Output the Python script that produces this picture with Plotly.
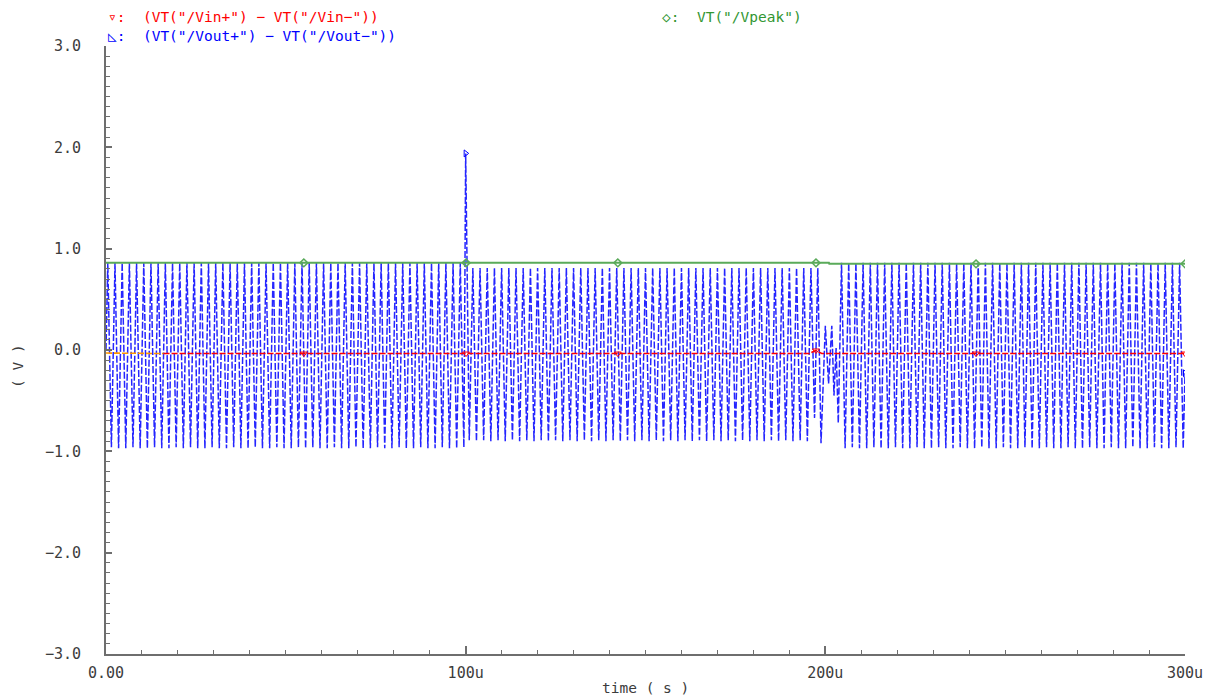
import numpy as np
import plotly.graph_objects as go

# ---------------- data (time in microseconds, volts) ----------------
# Differential output: per-cycle peak / trough levels, three steady regions
out_pk_a = [
    0.86, 0.86, 0.86, 0.86, 0.86, 0.86, 0.86, 0.86, 0.86, 0.86,
    0.86, 0.86, 0.86, 0.86, 0.86, 0.86, 0.86, 0.86, 0.86, 0.86,
    0.86, 0.86, 0.86, 0.86, 0.86, 0.86, 0.86, 0.86, 0.86, 0.86,
    0.86, 0.86, 0.86, 0.86, 0.86, 0.86, 0.86, 0.86, 0.86, 0.86,
    0.86, 0.86, 0.86, 0.86, 0.86, 0.86, 0.86, 0.86, 0.86, 0.86,
]
out_tr_a = [
    -0.96, -0.97, -0.97, -0.96, -0.97, -0.97, -0.96, -0.97, -0.97, -0.96,
    -0.97, -0.96, -0.97, -0.97, -0.96, -0.97, -0.97, -0.96, -0.97, -0.97,
    -0.96, -0.97, -0.97, -0.96, -0.97, -0.97, -0.96, -0.97, -0.96, -0.97,
    -0.97, -0.96, -0.97, -0.97, -0.96, -0.97, -0.97, -0.96, -0.97, -0.97,
    -0.96, -0.97, -0.97, -0.96, -0.97, -0.97, -0.96, -0.97, -0.97, -0.96,
]
out_spike = 1.94
out_tr_b = [
    -0.89, -0.90, -0.89, -0.90, -0.89, -0.90, -0.89, -0.90, -0.89, -0.90,
    -0.89, -0.90, -0.89, -0.90, -0.89, -0.90, -0.89, -0.90, -0.89, -0.90,
    -0.89, -0.90, -0.89, -0.90, -0.89, -0.90, -0.89, -0.90, -0.89, -0.90,
    -0.89, -0.90, -0.89, -0.90, -0.89, -0.90, -0.89, -0.90, -0.89, -0.90,
    -0.89, -0.90, -0.89, -0.90, -0.89, -0.90, -0.89, -0.90,
]
out_pk_b = [
    0.81, 0.81, 0.81, 0.81, 0.81, 0.81, 0.81, 0.81, 0.81, 0.81,
    0.81, 0.81, 0.81, 0.81, 0.81, 0.81, 0.81, 0.81, 0.81, 0.81,
    0.81, 0.81, 0.81, 0.81, 0.81, 0.81, 0.81, 0.81, 0.81, 0.81,
    0.81, 0.81, 0.81, 0.81, 0.81, 0.81, 0.81, 0.81, 0.81, 0.81,
    0.81, 0.81, 0.81, 0.81, 0.81, 0.81, 0.81, 0.81,
]
# disturbance around 200u
out_glitch_t = [197.0, 197.9, 198.8, 200.0, 200.9, 201.8, 202.4, 203.0, 203.6]
out_glitch_v = [-0.67, 0.81, -0.92, 0.24, -0.33, 0.24, -0.45, 0.02, -0.72]
out_pk_c = [
    0.86, 0.86, 0.86, 0.86, 0.86, 0.86, 0.86, 0.86, 0.86, 0.86,
    0.86, 0.86, 0.86, 0.86, 0.86, 0.86, 0.86, 0.86, 0.86, 0.86,
    0.86, 0.86, 0.86, 0.86, 0.86, 0.86, 0.86, 0.86, 0.86, 0.86,
    0.86, 0.86, 0.86, 0.86, 0.86, 0.86, 0.86, 0.86, 0.86, 0.86,
    0.86, 0.86, 0.86, 0.86, 0.86, 0.86, 0.86, 0.86,
]
out_tr_c = [
    -0.97, -0.96, -0.97, -0.97, -0.96, -0.97, -0.97, -0.96, -0.97, -0.97,
    -0.96, -0.97, -0.97, -0.96, -0.97, -0.97, -0.96, -0.97, -0.97, -0.96,
    -0.97, -0.97, -0.96, -0.97, -0.97, -0.96, -0.97, -0.97, -0.96, -0.97,
    -0.97, -0.96, -0.97, -0.97, -0.96, -0.97, -0.97, -0.96, -0.97, -0.97,
    -0.96, -0.97, -0.97, -0.96, -0.97, -0.97, -0.96, -0.97,
]
out_start = 0.0
out_end = -0.23

# Differential input (small offset)
vin_t = [16.0, 55.0, 100.0, 142.3, 195.5, 197.4, 199.0, 241.9, 300.0]
vin_v = [-0.035, -0.035, -0.035, -0.035, -0.035, -0.005, -0.035, -0.035, -0.035]
vin_early_t = [0.0, 8.0, 16.0]
vin_early_v = [-0.03, -0.035, -0.035]

# Peak detector output
vpeak_t = [0.0, 55.3, 100.1, 142.3, 197.4, 201.0, 201.1, 241.9, 300.0]
vpeak_v = [0.86, 0.86, 0.86, 0.86, 0.86, 0.86, 0.85, 0.85, 0.85]

# Trace marker positions
mark_t = [55.0, 100.1, 142.3, 197.4, 241.9, 300.0]

x_tickvals = [0, 100, 200, 300]
x_ticktext = ["0.00", "100u", "200u", "300u"]

# ---------------- assemble output waveform ----------------
half = 1.0  # half period of the oscillation, us
out_t, out_v = [0.0], [out_start]
for k in range(len(out_pk_a)):
    out_t += [0.5 + 2 * k * half, 1.5 + 2 * k * half]
    out_v += [out_pk_a[k], out_tr_a[k]]
out_t.append(100.0)
out_v.append(out_spike)
for k in range(len(out_tr_b)):
    out_t += [101.0 + 2 * k * half, 102.0 + 2 * k * half]
    out_v += [out_tr_b[k], out_pk_b[k]]
out_t += out_glitch_t
out_v += out_glitch_v
for k in range(len(out_pk_c)):
    out_t += [204.5 + 2 * k * half, 205.5 + 2 * k * half]
    out_v += [out_pk_c[k], out_tr_c[k]]
out_t.append(300.0)
out_v.append(out_end)
out_t = np.array(out_t)
out_v = np.array(out_v)

MONO = "DejaVu Sans Mono"
BLUE = "rgb(0,0,255)"
RED = "rgb(255,0,0)"
GREEN = "rgb(90,170,90)"

fig = go.Figure()

fig.add_trace(go.Scatter(
    x=out_t, y=out_v, mode="lines",
    line=dict(color=BLUE, width=1.5, dash="7px,2px"),
    opacity=0.85, hoverinfo="skip", showlegend=False))

fig.add_trace(go.Scatter(
    x=vin_early_t, y=vin_early_v, mode="lines",
    line=dict(color="rgb(255,150,0)", width=1.6, dash="6px,2px"),
    hoverinfo="skip", showlegend=False))
fig.add_trace(go.Scatter(
    x=vin_t, y=vin_v, mode="lines",
    line=dict(color=RED, width=1.6, dash="6px,2px"),
    hoverinfo="skip", showlegend=False))

fig.add_trace(go.Scatter(
    x=vpeak_t, y=vpeak_v, mode="lines",
    line=dict(color=GREEN, width=2),
    hoverinfo="skip", showlegend=False))

# identification markers on each trace
fig.add_trace(go.Scatter(
    x=mark_t, y=np.interp(mark_t, vpeak_t, vpeak_v), mode="markers",
    marker=dict(symbol="diamond-open", size=6, color=GREEN, line=dict(width=1.5)),
    hoverinfo="skip", showlegend=False))
fig.add_trace(go.Scatter(
    x=mark_t, y=np.interp(mark_t, vin_t, vin_v), mode="markers",
    marker=dict(symbol="triangle-down-open", size=6, color=RED, line=dict(width=1)),
    hoverinfo="skip", showlegend=False))
blue_mark_t = [100.0, 300.0]
fig.add_trace(go.Scatter(
    x=blue_mark_t, y=np.interp(blue_mark_t, out_t, out_v), mode="markers",
    marker=dict(symbol="triangle-right-open", size=6, color=BLUE, line=dict(width=1)),
    hoverinfo="skip", showlegend=False))

axis_col = "#6e6e6e"
fig.update_xaxes(
    range=[0, 300], showgrid=False, zeroline=False,
    showline=True, linecolor=axis_col, linewidth=2,
    ticks="inside", ticklen=8, tickwidth=1.5, tickcolor=axis_col,
    tickvals=x_tickvals, ticktext=x_ticktext,
    minor=dict(ticks="inside", dtick=10, ticklen=4, tickcolor=axis_col, tickwidth=1),
    tickfont=dict(family=MONO, size=15, color="#3c3c3c"),
    ticklabelstandoff=4,
)
fig.update_yaxes(
    range=[-3, 3], showgrid=False, zeroline=False,
    showline=True, linecolor=axis_col, linewidth=2,
    ticks="inside", ticklen=6, tickwidth=1.5, tickcolor=axis_col,
    dtick=1, tick0=0, tickformat=".1f",
    minor=dict(ticks="inside", dtick=0.1, ticklen=4, tickcolor=axis_col, tickwidth=1),
    tickfont=dict(family=MONO, size=15, color="#3c3c3c"),
    ticklabelstandoff=20,
)

annotations = [
    dict(text='\u25bf:  (VT("/Vin+") \u2212 VT("/Vin\u2212"))', x=106, y=17,
         font=dict(color=RED)),
    dict(text='\u25fa:  (VT("/Vout+") \u2212 VT("/Vout\u2212"))', x=106, y=36,
         font=dict(color=BLUE)),
    dict(text='\u25c7:  VT("/Vpeak")', x=660, y=17,
         font=dict(color="rgb(50,150,50)")),
]
ann = []
for a in annotations:
    ann.append(dict(
        text=a["text"], xref="paper", yref="paper",
        x=(a["x"] - 106) / 1079, y=(654 - a["y"]) / 608,
        xanchor="left", yanchor="middle", showarrow=False,
        font=dict(family=MONO, size=14.5, color=a["font"]["color"])))
ann.append(dict(text="( V )", xref="paper", yref="paper",
                x=(18 - 106) / 1079, y=(654 - 366) / 608, textangle=-90,
                xanchor="center", yanchor="middle", showarrow=False,
                font=dict(family=MONO, size=14.5, color="#3c3c3c")))
ann.append(dict(text="time ( s )", xref="paper", yref="paper",
                x=(645 - 106) / 1079, y=(654 - 688) / 608,
                xanchor="center", yanchor="middle", showarrow=False,
                font=dict(family=MONO, size=14.5, color="#3c3c3c")))

fig.update_layout(
    width=1214, height=697,
    margin=dict(l=106, r=29, t=46, b=43),
    paper_bgcolor="white", plot_bgcolor="white",
    annotations=ann, showlegend=False,
)

fig.write_html("out.html")
